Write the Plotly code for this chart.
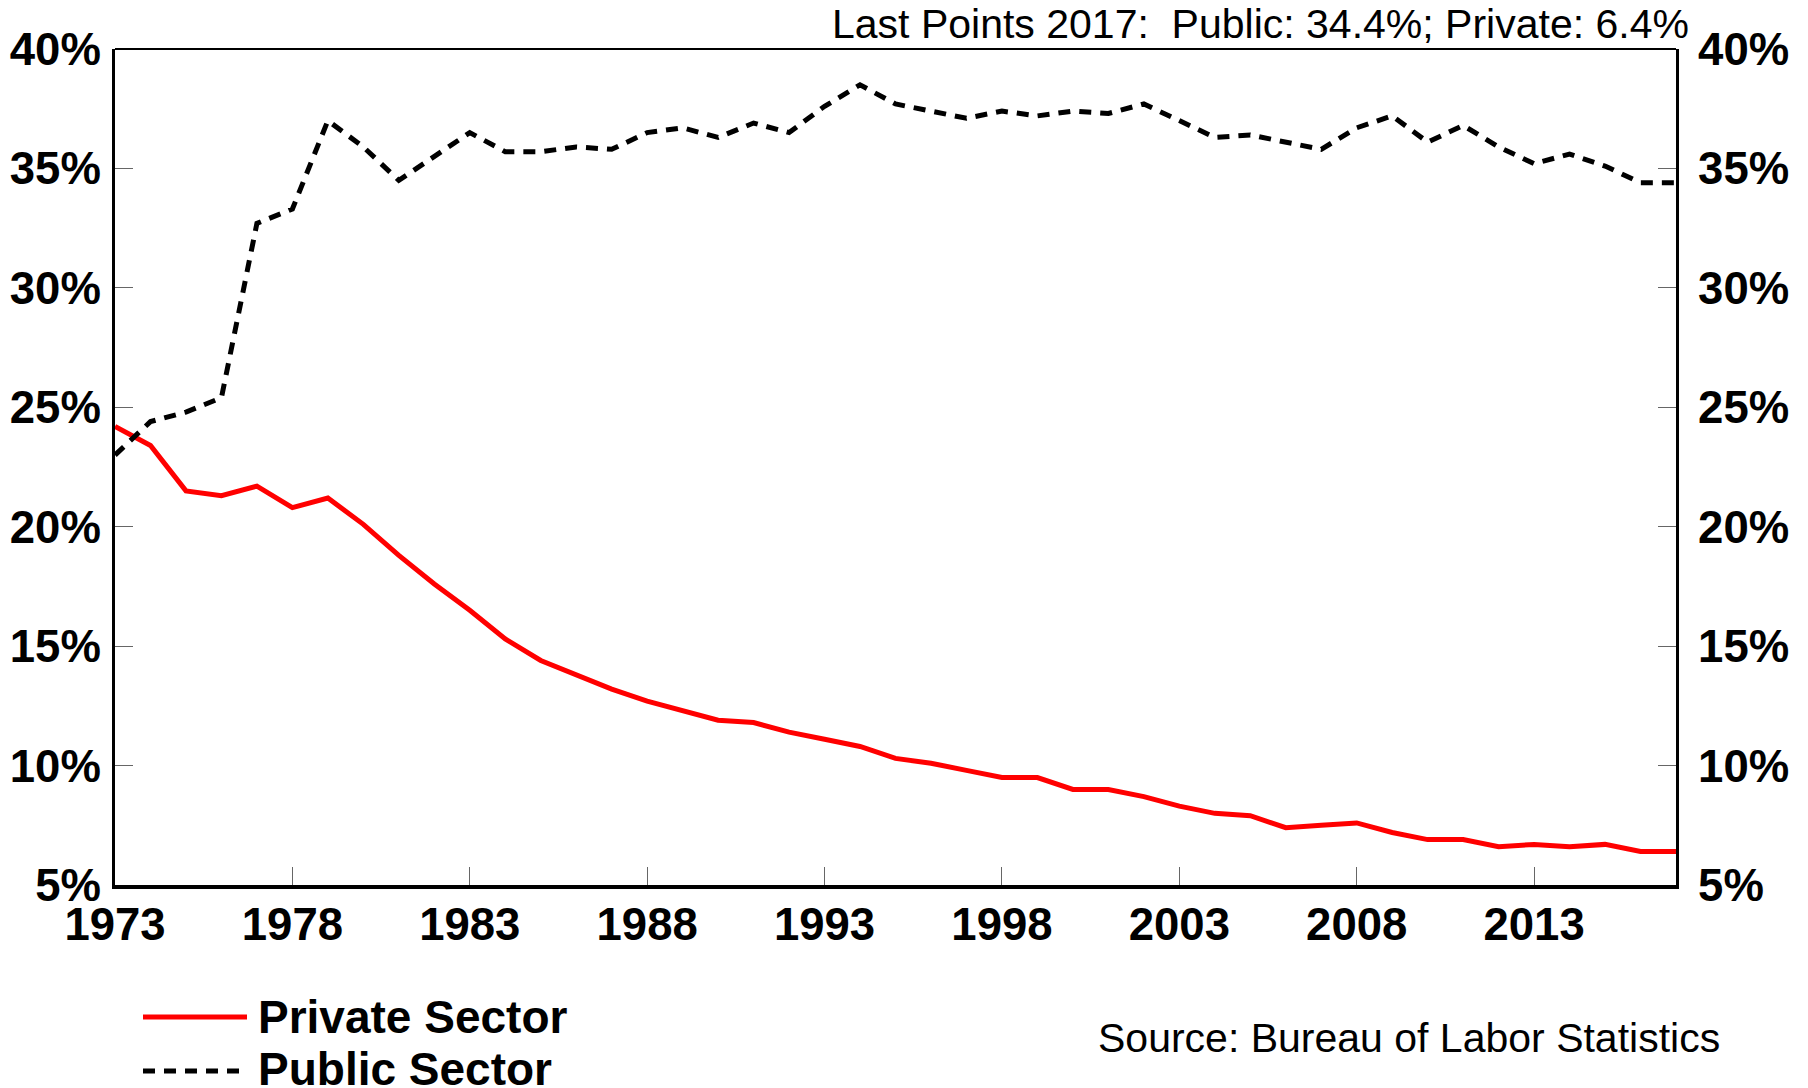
import plotly.graph_objects as go

years = list(range(1973, 2018))
private_sector = [24.2, 23.4, 21.5, 21.3, 21.7, 20.8, 21.2, 20.1, 18.8, 17.6,
                  16.5, 15.3, 14.4, 13.8, 13.2, 12.7, 12.3, 11.9, 11.8, 11.4,
                  11.1, 10.8, 10.3, 10.1, 9.8, 9.5, 9.5, 9.0, 9.0, 8.7,
                  8.3, 8.0, 7.9, 7.4, 7.5, 7.6, 7.2, 6.9, 6.9, 6.6,
                  6.7, 6.6, 6.7, 6.4, 6.4]
public_sector = [23.0, 24.4, 24.8, 25.4, 32.7, 33.3, 37.0, 35.9, 34.5, 35.5,
                 36.5, 35.7, 35.7, 35.9, 35.8, 36.5, 36.7, 36.3, 36.9, 36.5,
                 37.6, 38.5, 37.7, 37.4, 37.1, 37.4, 37.2, 37.4, 37.3, 37.7,
                 37.0, 36.3, 36.4, 36.1, 35.8, 36.7, 37.2, 36.1, 36.8, 35.9,
                 35.2, 35.6, 35.1, 34.4, 34.4]
x_ticks = list(range(1973, 2018, 5))
y_ticks = [5, 10, 15, 20, 25, 30, 35, 40]
y_tick_labels = [f"{v}%" for v in y_ticks]

W, H = 1808, 1088
L, R, T, B = 115, 132, 49, 203
PW, PH = W - L - R, H - T - B

def px(x):
    return (x - L) / PW

def py(y):
    return (H - B - y) / PH

FONT = "Liberation Sans, Arial, sans-serif"

fig = go.Figure()
fig.add_trace(go.Scatter(x=years, y=private_sector, mode="lines", name="Private Sector",
                         line=dict(color="#ff0000", width=5), yaxis="y", showlegend=False,
                         hoverinfo="skip"))
fig.add_trace(go.Scatter(x=years, y=public_sector, mode="lines", name="Public Sector",
                         line=dict(color="#000000", width=5, dash="12px,9px"), yaxis="y2",
                         showlegend=False, hoverinfo="skip"))

tickfont = dict(family=FONT, size=45.5, color="#000000", weight="bold")
yax = dict(range=[5, 40], tickvals=y_ticks, ticktext=y_tick_labels, ticks="inside",
           ticklen=18, tickwidth=1, tickcolor="#666666", showgrid=False, zeroline=False,
           showline=True, linewidth=3, linecolor="#000000", tickfont=tickfont,
           automargin=False, fixedrange=True)
fig.update_layout(
    width=W, height=H,
    margin=dict(l=L, r=R, t=T, b=B, autoexpand=False),
    paper_bgcolor="white", plot_bgcolor="white",
    xaxis=dict(range=[1973, 2017], tickvals=x_ticks, ticks="inside", ticklen=18,
               tickwidth=1, tickcolor="#666666", showgrid=False, zeroline=False,
               showline=True, linewidth=4, linecolor="#000000", tickfont=tickfont,
               ticklabelstandoff=-4, automargin=False, fixedrange=True),
    yaxis=dict(**yax, side="left", ticklabelstandoff=2),
    yaxis2=dict(**yax, side="right", overlaying="y", ticklabelstandoff=10),
    font=dict(family=FONT),
)

# top frame line
fig.add_shape(type="line", xref="paper", yref="paper", x0=0, x1=1, y0=1, y1=1,
              line=dict(color="#000000", width=2))

# legend
fig.add_shape(type="line", xref="paper", yref="paper", x0=px(143), x1=px(247),
              y0=py(1017), y1=py(1017), line=dict(color="#ff0000", width=5))
fig.add_shape(type="line", xref="paper", yref="paper", x0=px(143), x1=px(247),
              y0=py(1071), y1=py(1071), line=dict(color="#000000", width=5, dash="12px,9px"))
fig.add_annotation(xref="paper", yref="paper", x=px(256), y=py(1017), text="<b>Private Sector</b>",
                   showarrow=False, xanchor="left", yanchor="middle",
                   font=dict(family=FONT, size=46, color="#000000"))
fig.add_annotation(xref="paper", yref="paper", x=px(256), y=py(1069), text="<b>Public Sector</b>",
                   showarrow=False, xanchor="left", yanchor="middle",
                   font=dict(family=FONT, size=46, color="#000000"))

fig.add_annotation(xref="paper", yref="paper", x=px(1691), y=py(24),
                   text="Last Points 2017:\u00a0 Public: 34.4%; Private: 6.4%",
                   showarrow=False, xanchor="right", yanchor="middle",
                   font=dict(family=FONT, size=41, color="#000000"))
fig.add_annotation(xref="paper", yref="paper", x=px(1722), y=py(1038),
                   text="Source: Bureau of Labor Statistics",
                   showarrow=False, xanchor="right", yanchor="middle",
                   font=dict(family=FONT, size=41, color="#000000"))

fig.write_html("out.html", config={"displayModeBar": False},
               post_script="document.body.style.margin='0px';")
